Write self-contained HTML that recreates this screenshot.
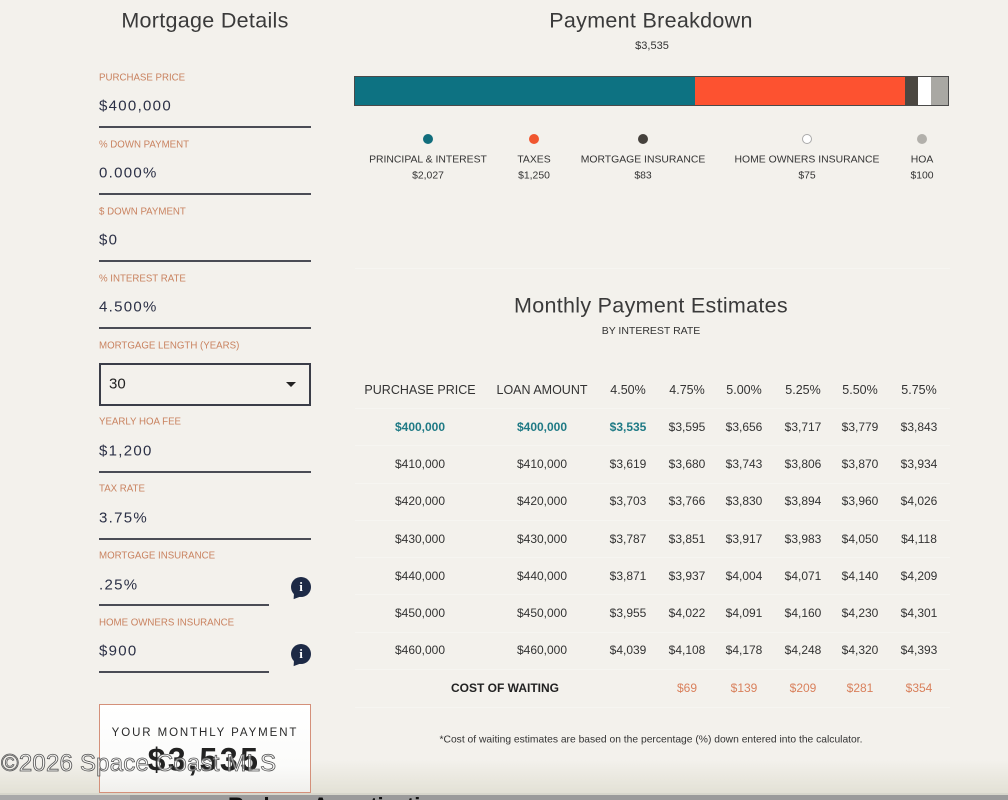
<!DOCTYPE html>
<html><head><meta charset="utf-8">
<style>
*{margin:0;padding:0;box-sizing:border-box}
html,body{width:1008px;height:800px;overflow:hidden;background:#f3f1ec;font-family:"Liberation Sans",Arial,sans-serif;color:#333}
.a{position:absolute;white-space:nowrap}
.c{position:absolute;white-space:nowrap;transform:translate(-50%,-50%)}
.l{position:absolute;white-space:nowrap;transform:translateY(-50%)}
.title{font-size:21.5px;color:#3a3a3a;font-weight:normal;letter-spacing:0.3px}
.lab{font-size:9.7px;color:#c9825f;left:99px}
.val{font-size:15px;color:#2b3046;letter-spacing:1.3px;left:99px}
.line{position:absolute;left:99px;height:2px;background:#4a4c55}
.info{position:absolute;width:20px;height:20px;border-radius:50%;background:#1d2a46;color:#fff;font:bold 13px "Liberation Serif",serif;text-align:center;line-height:20px}
.info:after{content:"";position:absolute;left:1px;bottom:-3px;border-left:3px solid transparent;border-right:5px solid transparent;border-top:6px solid #1d2a46;transform:rotate(30deg)}
.dot{position:absolute;width:10px;height:10px;border-radius:50%;transform:translate(-50%,-50%)}
.lg{font-size:10.4px;color:#333}
.th{font-size:12.5px;color:#333}
.td{font-size:12px;color:#333}
.hl{font-size:12px;color:#1f7a85;font-weight:bold}
.cw{font-size:12px;color:#d9805c}
.sep{position:absolute;left:355px;width:595px;height:1px;background:#f6f5f1}
</style></head><body>

<!-- LEFT COLUMN -->
<div class="c title" style="left:205px;top:21px">Mortgage Details</div>

<div class="l lab" style="top:77.5px">PURCHASE PRICE</div>
<div class="l val" style="top:105.5px">$400,000</div>
<div class="line" style="top:126px;width:212px"></div>

<div class="l lab" style="top:144.5px">% DOWN PAYMENT</div>
<div class="l val" style="top:172.5px">0.000%</div>
<div class="line" style="top:193px;width:212px"></div>

<div class="l lab" style="top:211.5px">$ DOWN PAYMENT</div>
<div class="l val" style="top:239.5px">$0</div>
<div class="line" style="top:260px;width:212px"></div>

<div class="l lab" style="top:278.5px">% INTEREST RATE</div>
<div class="l val" style="top:306.5px">4.500%</div>
<div class="line" style="top:327px;width:212px"></div>

<div class="l lab" style="top:345.5px">MORTGAGE LENGTH (YEARS)</div>
<div class="a" style="left:99px;top:363px;width:212px;height:43px;border:2px solid #3a3d48"></div>
<div class="l" style="left:109px;top:384px;font-size:15px;color:#222">30</div>
<div class="a" style="left:286px;top:382px;border-left:5px solid transparent;border-right:5px solid transparent;border-top:5px solid #222"></div>

<div class="l lab" style="top:421.5px">YEARLY HOA FEE</div>
<div class="l val" style="top:450.5px">$1,200</div>
<div class="line" style="top:471px;width:212px"></div>

<div class="l lab" style="top:488.5px">TAX RATE</div>
<div class="l val" style="top:517.5px">3.75%</div>
<div class="line" style="top:538px;width:212px"></div>

<div class="l lab" style="top:555.5px">MORTGAGE INSURANCE</div>
<div class="l val" style="top:584.5px">.25%</div>
<div class="line" style="top:604px;width:170px"></div>
<div class="info" style="left:291px;top:577px">i</div>

<div class="l lab" style="top:622.5px">HOME OWNERS INSURANCE</div>
<div class="l val" style="top:650.5px">$900</div>
<div class="line" style="top:671px;width:170px"></div>
<div class="info" style="left:291px;top:644px">i</div>

<div class="a" style="left:99px;top:704px;width:212px;height:89px;border:1px solid #d4907a;background:linear-gradient(#ffffff,#fbfbfa 70%,#f0efec)"></div>
<div class="c" style="left:205px;top:733px;font-size:11.5px;letter-spacing:1.9px;color:#2a2a2a">YOUR MONTHLY PAYMENT</div>
<div class="c" style="left:204px;top:760px;font-size:32px;font-weight:bold;letter-spacing:2.5px;color:#222">$3,535</div>

<!-- RIGHT: PAYMENT BREAKDOWN -->
<div class="c title" style="left:651px;top:21px">Payment Breakdown</div>
<div class="c" style="left:652px;top:46px;font-size:11px;color:#333">$3,535</div>

<div class="a" style="left:354px;top:76px;width:595px;height:30px;border:1px solid #4a4a4a;display:flex;overflow:hidden">
  <div style="width:340px;background:#0d7282"></div>
  <div style="width:210px;background:#fd5230"></div>
  <div style="width:13px;background:#4b4741"></div>
  <div style="width:13px;background:#ffffff"></div>
  <div style="flex:1;background:#a9a8a3"></div>
</div>

<div class="dot" style="left:428px;top:139px;background:#116d7c"></div>
<div class="dot" style="left:534px;top:139px;background:#f0562f"></div>
<div class="dot" style="left:643px;top:139px;background:#45413c"></div>
<div class="dot" style="left:807px;top:139px;background:#fff;border:1px solid #aaa"></div>
<div class="dot" style="left:922px;top:139px;background:#b2b0ab"></div>

<div class="c lg" style="left:428px;top:160px">PRINCIPAL &amp; INTEREST</div>
<div class="c lg" style="left:428px;top:176px">$2,027</div>
<div class="c lg" style="left:534px;top:160px">TAXES</div>
<div class="c lg" style="left:534px;top:176px">$1,250</div>
<div class="c lg" style="left:643px;top:160px">MORTGAGE INSURANCE</div>
<div class="c lg" style="left:643px;top:176px">$83</div>
<div class="c lg" style="left:807px;top:160px">HOME OWNERS INSURANCE</div>
<div class="c lg" style="left:807px;top:176px">$75</div>
<div class="c lg" style="left:922px;top:160px">HOA</div>
<div class="c lg" style="left:922px;top:176px">$100</div>

<div class="sep" style="top:268px"></div>

<!-- MONTHLY PAYMENT ESTIMATES -->
<div class="c title" style="left:651px;top:306px">Monthly Payment Estimates</div>
<div class="c" style="left:651px;top:331px;font-size:10.5px;color:#333">BY INTEREST RATE</div>

<div class="c th" style="left:420px;top:390px">PURCHASE PRICE</div>
<div class="c th" style="left:542px;top:390px">LOAN AMOUNT</div>
<div class="c th" style="left:628px;top:390px">4.50%</div>
<div class="c th" style="left:687px;top:390px">4.75%</div>
<div class="c th" style="left:744px;top:390px">5.00%</div>
<div class="c th" style="left:803px;top:390px">5.25%</div>
<div class="c th" style="left:860px;top:390px">5.50%</div>
<div class="c th" style="left:919px;top:390px">5.75%</div>

<div class="sep" style="top:408px"></div>
<div class="c hl" style="left:420px;top:427px">$400,000</div>
<div class="c hl" style="left:542px;top:427px">$400,000</div>
<div class="c hl" style="left:628px;top:427px">$3,535</div>
<div class="c td" style="left:687px;top:427px">$3,595</div>
<div class="c td" style="left:744px;top:427px">$3,656</div>
<div class="c td" style="left:803px;top:427px">$3,717</div>
<div class="c td" style="left:860px;top:427px">$3,779</div>
<div class="c td" style="left:919px;top:427px">$3,843</div>

<div class="sep" style="top:445px"></div>
<div class="c td" style="left:420px;top:464px">$410,000</div>
<div class="c td" style="left:542px;top:464px">$410,000</div>
<div class="c td" style="left:628px;top:464px">$3,619</div>
<div class="c td" style="left:687px;top:464px">$3,680</div>
<div class="c td" style="left:744px;top:464px">$3,743</div>
<div class="c td" style="left:803px;top:464px">$3,806</div>
<div class="c td" style="left:860px;top:464px">$3,870</div>
<div class="c td" style="left:919px;top:464px">$3,934</div>

<div class="sep" style="top:483px"></div>
<div class="c td" style="left:420px;top:501px">$420,000</div>
<div class="c td" style="left:542px;top:501px">$420,000</div>
<div class="c td" style="left:628px;top:501px">$3,703</div>
<div class="c td" style="left:687px;top:501px">$3,766</div>
<div class="c td" style="left:744px;top:501px">$3,830</div>
<div class="c td" style="left:803px;top:501px">$3,894</div>
<div class="c td" style="left:860px;top:501px">$3,960</div>
<div class="c td" style="left:919px;top:501px">$4,026</div>

<div class="sep" style="top:520px"></div>
<div class="c td" style="left:420px;top:539px">$430,000</div>
<div class="c td" style="left:542px;top:539px">$430,000</div>
<div class="c td" style="left:628px;top:539px">$3,787</div>
<div class="c td" style="left:687px;top:539px">$3,851</div>
<div class="c td" style="left:744px;top:539px">$3,917</div>
<div class="c td" style="left:803px;top:539px">$3,983</div>
<div class="c td" style="left:860px;top:539px">$4,050</div>
<div class="c td" style="left:919px;top:539px">$4,118</div>

<div class="sep" style="top:557px"></div>
<div class="c td" style="left:420px;top:576px">$440,000</div>
<div class="c td" style="left:542px;top:576px">$440,000</div>
<div class="c td" style="left:628px;top:576px">$3,871</div>
<div class="c td" style="left:687px;top:576px">$3,937</div>
<div class="c td" style="left:744px;top:576px">$4,004</div>
<div class="c td" style="left:803px;top:576px">$4,071</div>
<div class="c td" style="left:860px;top:576px">$4,140</div>
<div class="c td" style="left:919px;top:576px">$4,209</div>

<div class="sep" style="top:594px"></div>
<div class="c td" style="left:420px;top:613px">$450,000</div>
<div class="c td" style="left:542px;top:613px">$450,000</div>
<div class="c td" style="left:628px;top:613px">$3,955</div>
<div class="c td" style="left:687px;top:613px">$4,022</div>
<div class="c td" style="left:744px;top:613px">$4,091</div>
<div class="c td" style="left:803px;top:613px">$4,160</div>
<div class="c td" style="left:860px;top:613px">$4,230</div>
<div class="c td" style="left:919px;top:613px">$4,301</div>

<div class="sep" style="top:632px"></div>
<div class="c td" style="left:420px;top:650px">$460,000</div>
<div class="c td" style="left:542px;top:650px">$460,000</div>
<div class="c td" style="left:628px;top:650px">$4,039</div>
<div class="c td" style="left:687px;top:650px">$4,108</div>
<div class="c td" style="left:744px;top:650px">$4,178</div>
<div class="c td" style="left:803px;top:650px">$4,248</div>
<div class="c td" style="left:860px;top:650px">$4,320</div>
<div class="c td" style="left:919px;top:650px">$4,393</div>

<div class="sep" style="top:669px"></div>
<div class="c" style="left:505px;top:688px;font-size:12px;font-weight:bold;color:#222">COST OF WAITING</div>
<div class="c cw" style="left:687px;top:688px">$69</div>
<div class="c cw" style="left:744px;top:688px">$139</div>
<div class="c cw" style="left:803px;top:688px">$209</div>
<div class="c cw" style="left:860px;top:688px">$281</div>
<div class="c cw" style="left:919px;top:688px">$354</div>
<div class="sep" style="top:707px"></div>

<div class="c" style="left:651px;top:740px;font-size:10.3px;color:#333">*Cost of waiting estimates are based on the percentage (%) down entered into the calculator.</div>

<!-- bottom shading -->
<div class="a" style="left:311px;top:760px;width:697px;height:35px;background:linear-gradient(rgba(230,228,218,0),#e2e0d4)"></div>
<div class="a" style="left:0;top:760px;width:99px;height:35px;background:linear-gradient(rgba(230,228,218,0),#e2e0d4)"></div>
<div class="a" style="left:0;top:793px;width:1008px;height:2px;background:#d8d7cc"></div>
<div class="a" style="left:0;top:795px;width:1008px;height:5px;background:#9b9b9b;overflow:hidden">
  <div class="a" style="left:0;top:0;width:130px;height:5px;background:#a9a9a9"></div>
  <div class="a" style="left:228px;top:0px;font-size:22px;font-weight:bold;color:#111;line-height:22px">Reduce Amortization</div>
</div>

<!-- watermark -->
<div class="l" style="left:1px;top:764px;font-size:24px;color:rgba(245,245,245,0.55);-webkit-text-stroke:0.8px #555;letter-spacing:0.2px">©2026 Space Coast MLS</div>

</body></html>
